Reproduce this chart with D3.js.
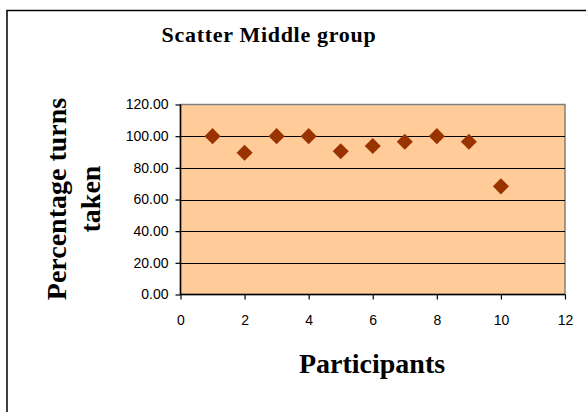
<!DOCTYPE html>
<html><head><meta charset="utf-8">
<script src="https://cdn.jsdelivr.net/npm/d3@7"></script>
<style>body{margin:0;background:#fff;} svg{display:block;}</style>
</head><body>
<svg id="c" width="586" height="412"></svg>
<script>
const participants = [1,2,3,4,5,6,7,8,9,10];
const percentTaken = [100,89.5,100,100,90.5,93.8,96.5,100,96.5,68.3];
const yTicks = [0,20,40,60,80,100,120];
const xTicks = [0,2,4,6,8,10,12];
const title = "Scatter Middle group";
const xTitle = "Participants";
const yTitle = ["Percentage turns","taken"];

const svg = d3.select("#c");
const L=180.5, R=565, T=104.5, B=294.5;
const x = d3.scaleLinear().domain([0,12]).range([L,R]);
const y = d3.scaleLinear().domain([0,120]).range([B,T]);

// outer chart border
svg.append("rect").attr("x",7).attr("y",10.5).attr("width",640).attr("height",450)
  .attr("fill","#fff").attr("stroke","#000").attr("stroke-width",1.5);

// plot area
svg.append("rect").attr("x",L).attr("y",T).attr("width",R-L).attr("height",B-T)
  .attr("fill","#FFCC99").attr("stroke","#808080").attr("stroke-width",1.5);

// gridlines
svg.append("g").selectAll("line").data(yTicks.filter(d=>d>0 && d<120)).join("line")
  .attr("x1",L).attr("x2",R).attr("y1",d=>Math.round(y(d))+0.5).attr("y2",d=>Math.round(y(d))+0.5)
  .attr("stroke","#000").attr("stroke-width",1);

// axes
const yAxis = d3.axisLeft(y).tickValues(yTicks).tickFormat(d3.format(".2f")).tickSize(5).tickPadding(7);
const gy = svg.append("g").attr("transform",`translate(${L},0)`).call(yAxis);
const xAxis = d3.axisBottom(x).tickValues(xTicks).tickFormat(d3.format("d")).tickSize(5).tickPadding(16);
const gx = svg.append("g").attr("transform",`translate(0,${B})`).call(xAxis);
[gx,gy].forEach(g=>{
  g.select(".domain").attr("stroke","#000").attr("stroke-width",1.5);
  g.selectAll(".tick line").attr("stroke","#000").attr("stroke-width",1.2);
  g.selectAll(".tick text").attr("font-family","Liberation Sans, Arial, sans-serif").attr("font-size",14).attr("fill","#000");
});
gx.select(".domain").attr("d",`M${L},0H${R}`);
gy.select(".domain").attr("d",`M0,${B}V${T}`);

// points
const sym = d3.symbol().type(d3.symbolDiamond2).size(165);
svg.append("g").selectAll("path").data(participants).join("path")
  .attr("transform",(d,i)=>`translate(${x(d)},${y(percentTaken[i])})`)
  .attr("d",sym).attr("fill","#993300");

// titles
svg.append("text").attr("x",269).attr("y",42).attr("text-anchor","middle")
  .attr("font-family","Liberation Serif, Times New Roman, serif").attr("font-weight","bold")
  .attr("font-size",22).attr("letter-spacing",0.7).text(title);
svg.append("text").attr("x",372).attr("y",373).attr("text-anchor","middle")
  .attr("font-family","Liberation Serif, Times New Roman, serif").attr("font-weight","bold")
  .attr("font-size",28).text(xTitle);
const yt = svg.append("text").attr("transform","translate(66,199) rotate(-90)").attr("text-anchor","middle")
  .attr("font-family","Liberation Serif, Times New Roman, serif").attr("font-weight","bold").attr("font-size",28);
yt.selectAll("tspan").data(yTitle).join("tspan").attr("x",0).attr("dy",(d,i)=>i?34:0).text(d=>d);
</script>
</body></html>
